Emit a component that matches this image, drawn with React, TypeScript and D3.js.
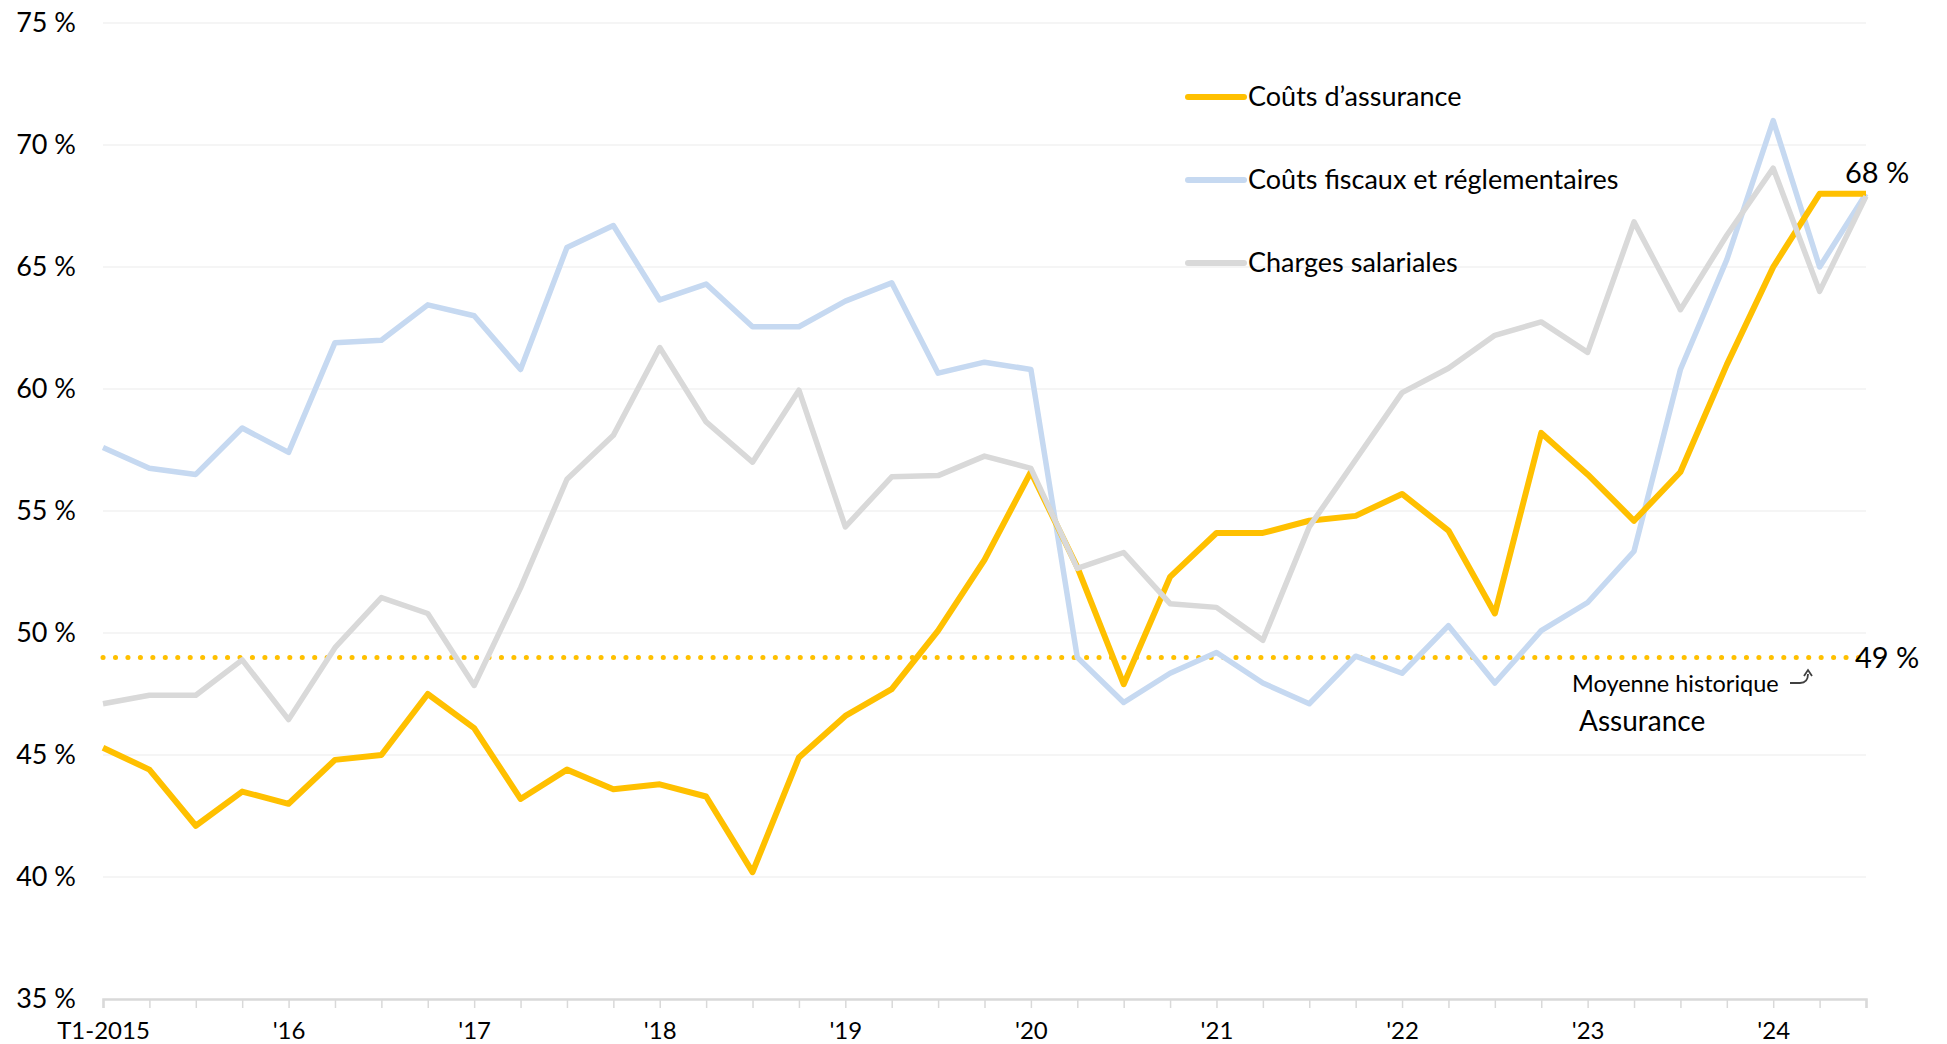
import { useRef, useEffect } from 'react';
import * as d3 from 'd3';

const quarters = d3.range(39).map(i => `T${(i % 4) + 1}-${2015 + Math.floor(i / 4)}`);
const yearLabels = ['T1-2015', "'16", "'17", "'18", "'19", "'20", "'21", "'22", "'23", "'24"];
const yTicks = [35, 40, 45, 50, 55, 60, 65, 70, 75];

const assurance = [
  45.3, 44.4, 42.1, 43.5, 43.0, 44.8, 45.0, 47.5, 46.1, 43.2,
  44.4, 43.6, 43.8, 43.3, 40.2, 44.9, 46.6, 47.7, 50.1, 53.0,
  56.6, 52.7, 47.9, 52.3, 54.1, 54.1, 54.6, 54.8, 55.7, 54.2,
  50.8, 58.2, 56.5, 54.6, 56.6, 61.0, 65.0, 68.0, 68.0,
];
const fiscaux = [
  57.6, 56.75, 56.5, 58.4, 57.4, 61.9, 62.0, 63.45, 63.0, 60.8,
  65.8, 66.7, 63.65, 64.3, 62.55, 62.55, 63.6, 64.35, 60.65, 61.1,
  60.8, 49.0, 47.15, 48.35, 49.2, 47.95, 47.1, 49.05, 48.35, 50.3,
  47.95, 50.1, 51.25, 53.35, 60.8, 65.3, 71.0, 65.0, 68.0,
];
const salariales = [
  47.1, 47.45, 47.45, 48.9, 46.45, 49.4, 51.45, 50.8, 47.85, 51.85,
  56.3, 58.1, 61.7, 58.65, 57.0, 59.95, 54.35, 56.4, 56.45, 57.25,
  56.75, 52.65, 53.3, 51.2, 51.05, 49.7, 54.35, 57.1, 59.85, 60.85,
  62.2, 62.75, 61.5, 66.85, 63.25, 66.3, 69.05, 64.0, 67.9,
];
const moyenneAssurance = 49;

const seriesNames = ['Coûts d’assurance', 'Coûts fiscaux et réglementaires', 'Charges salariales'];
const seriesColors = ['#FFC000', '#C6D9F1', '#D9D9D9'];

const FONT = 'Lato, "Noto Sans", sans-serif';

function App() {
  const svgRef = useRef(null);
  const width = 1947;
  const height = 1044;

  useEffect(() => {
    const svg = d3.select(svgRef.current);
    svg.selectAll('*').remove();

    const x = d3.scaleLinear().domain([0, quarters.length - 1]).range([103, 1866]);
    const y = d3.scaleLinear().domain([35, 75]).range([999, 23]);

    // grid
    svg
      .append('g')
      .selectAll('line')
      .data(yTicks.filter(t => t > 35))
      .enter()
      .append('line')
      .attr('x1', x(0))
      .attr('x2', x(quarters.length - 1))
      .attr('y1', d => y(d))
      .attr('y2', d => y(d))
      .attr('stroke', '#F2F2F2')
      .attr('stroke-width', 1.5);

    // y labels
    svg
      .append('g')
      .selectAll('text')
      .data(yTicks)
      .enter()
      .append('text')
      .attr('x', 76)
      .attr('y', d => y(d))
      .attr('dy', '0.35em')
      .attr('text-anchor', 'end')
      .style('font-family', FONT)
      .style('font-size', '27px')
      .style('fill', '#000')
      .text(d => `${d} %`);

    // x axis
    const xAxis = d3
      .axisBottom(x)
      .tickValues(d3.range(quarters.length))
      .tickSize(9)
      .tickPadding(14)
      .tickFormat(i => (i % 4 === 0 ? yearLabels[i / 4] : ''));
    const gx = svg
      .append('g')
      .attr('transform', `translate(0,${y(35)})`)
      .call(xAxis);
    gx.select('.domain').attr('stroke', '#D9D9D9').attr('stroke-width', 2.5);
    gx.selectAll('.tick line').attr('stroke', '#D9D9D9').attr('stroke-width', 1.5);
    gx.selectAll('.tick text')
      .style('font-family', FONT)
      .style('font-size', '24px')
      .style('fill', '#000');

    // historic average
    svg
      .append('line')
      .attr('x1', x(0))
      .attr('x2', x(quarters.length - 1))
      .attr('y1', y(moyenneAssurance))
      .attr('y2', y(moyenneAssurance))
      .attr('stroke', '#FFC000')
      .attr('stroke-width', 5)
      .attr('stroke-linecap', 'round')
      .attr('stroke-dasharray', '0.1 12.35');

    const line = d3
      .line()
      .x((d, i) => x(i))
      .y(d => y(d));

    const drawOrder = [
      { data: fiscaux, color: seriesColors[1], w: 5.5 },
      { data: assurance, color: seriesColors[0], w: 6 },
      { data: salariales, color: seriesColors[2], w: 5.5 },
    ];
    svg
      .append('g')
      .selectAll('path')
      .data(drawOrder)
      .enter()
      .append('path')
      .attr('d', d => line(d.data))
      .attr('fill', 'none')
      .attr('stroke', d => d.color)
      .attr('stroke-width', d => d.w)
      .attr('stroke-linejoin', 'round');

    // legend
    const legend = svg
      .append('g')
      .selectAll('g')
      .data(seriesNames)
      .enter()
      .append('g')
      .attr('transform', (d, i) => `translate(1188,${97 + i * 83})`);
    legend
      .append('line')
      .attr('x1', 0)
      .attr('x2', 56)
      .attr('stroke', (d, i) => seriesColors[i])
      .attr('stroke-width', 6)
      .attr('stroke-linecap', 'round');
    legend
      .append('text')
      .attr('x', 60)
      .attr('dy', '0.35em')
      .style('font-family', FONT)
      .style('font-size', '27px')
      .style('fill', '#000')
      .text(d => d);

    // annotations
    const last = quarters.length - 1;
    svg
      .append('text')
      .attr('x', x(last) - 21)
      .attr('y', y(assurance[last]) - 11)
      .style('font-family', FONT)
      .style('font-size', '29px')
      .style('fill', '#000')
      .text(`${Math.round(assurance[last])} %`);
    svg
      .append('text')
      .attr('x', x(last) - 11)
      .attr('y', y(moyenneAssurance))
      .attr('dy', '0.38em')
      .style('font-family', FONT)
      .style('font-size', '29px')
      .style('fill', '#000')
      .text(`${moyenneAssurance} %`);
    svg
      .append('text')
      .attr('x', 1572)
      .attr('y', 692)
      .style('font-family', FONT)
      .style('font-size', '23.5px')
      .style('fill', '#000')
      .text('Moyenne historique');
    svg
      .append('text')
      .attr('x', 1579)
      .attr('y', 731)
      .style('font-family', FONT)
      .style('font-size', '28px')
      .style('fill', '#000')
      .text('Assurance');
    svg
      .append('path')
      .attr('d', 'M1790,683 L1800,683 Q1808,683 1808,674')
      .attr('fill', 'none')
      .attr('stroke', '#404040')
      .attr('stroke-width', 1.8);
    svg
      .append('path')
      .attr('d', 'M1804,676 L1808,670 L1812,676')
      .attr('fill', 'none')
      .attr('stroke', '#404040')
      .attr('stroke-width', 1.8);
  }, []);

  return (
    <svg
      ref={svgRef}
      width={width}
      height={height}
      style={{ position: 'absolute', left: 0, top: 0, background: '#fff' }}
    />
  );
}

export default App;
